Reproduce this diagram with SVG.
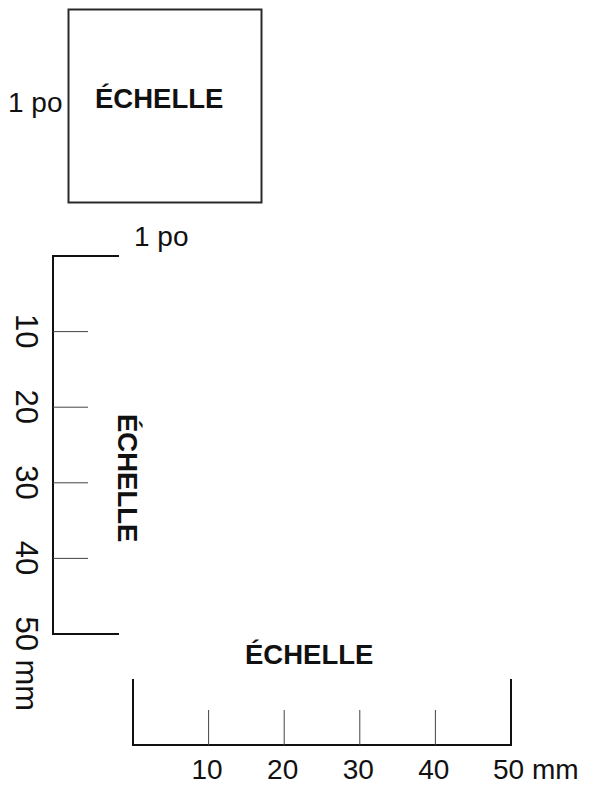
<svg xmlns="http://www.w3.org/2000/svg" width="593" height="786" viewBox="0 0 593 786">
<style>
.reg{font-family:"Liberation Sans",Arial,sans-serif;font-size:28px;fill:#111}
.vreg{font-family:"Liberation Sans",Arial,sans-serif;font-size:31px;fill:#111}
.bold{font-family:"Liberation Sans",Arial,sans-serif;font-size:27.5px;font-weight:bold;fill:#111}
.main{stroke:#111;stroke-width:2;fill:none}
.tick{stroke:#444;stroke-width:1;fill:none}
</style>
<rect x="0" y="0" width="593" height="786" fill="#fff"/>
<g id="square">
<rect x="68.5" y="9.5" width="193" height="193" fill="none" stroke="#2a2a2a" stroke-width="2"/>
<text class="reg" x="8" y="112">1 po</text>
<text class="bold" x="95" y="108">ÉCHELLE</text>
<text class="reg" x="134" y="246">1 po</text>
</g>
<g id="vertical-scale">
<path class="main" d="M119,256 H53 V634 H119"/>
<path class="tick" d="M53,331.6 H88 M53,407.2 H88 M53,482.8 H88 M53,558.4 H88"/>
<text class="vreg" transform="translate(16,314) rotate(90)">10</text>
<text class="vreg" transform="translate(16,389.6) rotate(90)">20</text>
<text class="vreg" transform="translate(16,465.2) rotate(90)">30</text>
<text class="vreg" transform="translate(16,540.8) rotate(90)">40</text>
<text class="vreg" transform="translate(16,616.4) rotate(90)">50 mm</text>
<text class="bold" transform="translate(118,414) rotate(90)">ÉCHELLE</text>
</g>
<g id="horizontal-scale">
<path class="main" d="M133,679 V745 H511 V679"/>
<path class="tick" d="M208.6,710 V745 M284.2,710 V745 M359.8,710 V745 M435.4,710 V745"/>
<text class="reg" x="191.5" y="779">10</text>
<text class="reg" x="267.1" y="779">20</text>
<text class="reg" x="342.7" y="779">30</text>
<text class="reg" x="418.3" y="779">40</text>
<text class="reg" x="493" y="779">50 mm</text>
<text class="bold" x="245" y="664">ÉCHELLE</text>
</g>
</svg>
